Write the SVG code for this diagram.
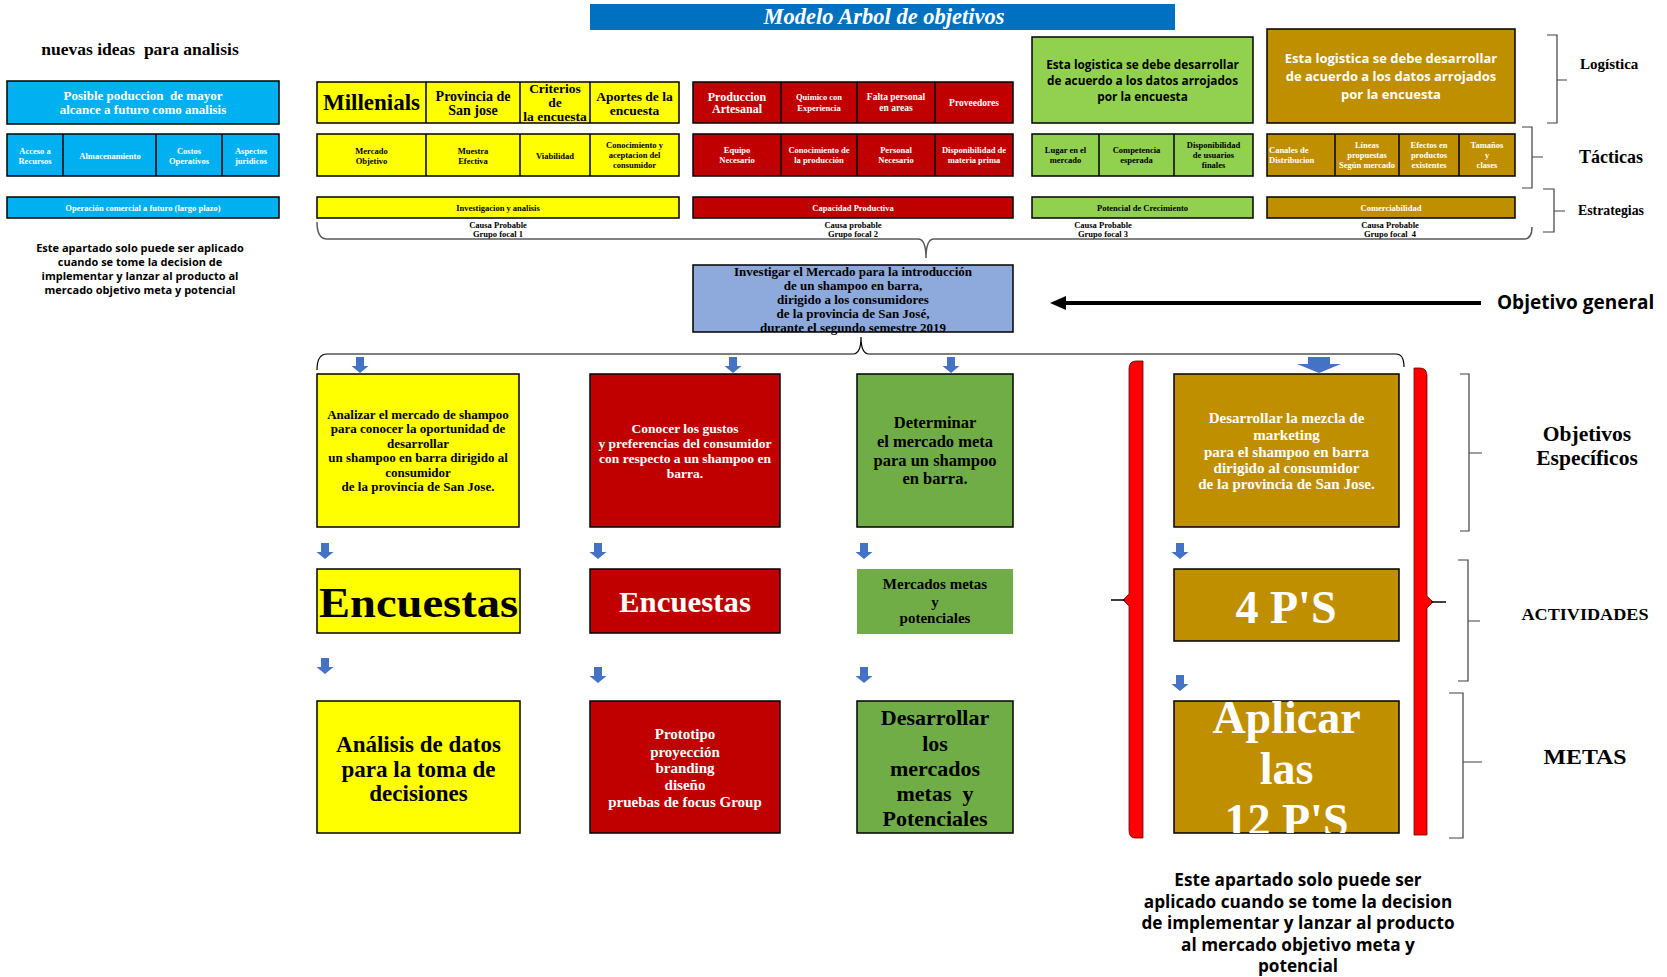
<svg xmlns="http://www.w3.org/2000/svg" xmlns:xlink="http://www.w3.org/1999/xlink" width="1667" height="977" viewBox="0 0 1667 977">
  <style>
    .s{font-family:"Liberation Serif","Times New Roman",serif;font-weight:bold}
    .ss{font-family:"Open Sans","Liberation Sans",Arial,sans-serif;font-weight:bold}
    .m{text-anchor:middle}
    .w{fill:#ffffff}
    .k{fill:#000000}
    .bx{stroke:#000;stroke-width:1.5}
    .dv{stroke:#000;stroke-width:1.5}
    .cy{fill:#00B0F0}
    .ye{fill:#FFFF00}
    .rd{fill:#C00000}
    .gl{fill:#92D050}
    .gd{fill:#BF8F00}
    .gg{fill:#70AD47}
    .br{fill:none;stroke:#404040;stroke-width:1.2}
    .arr{fill:#4472C4}
    .t85{font-size:8.5px}
  </style>
  <defs>
    <path id="ar" d="M-4,0 H4 V9 H8.5 L0,16 L-8.5,9 H-4 Z"/>
    <path id="arBig" d="M-11,0 H11 V7 H22 L0,16 L-22,7 H-11 Z"/>
    <clipPath id="clipAplicar"><rect x="1174" y="701" width="225" height="132"/></clipPath>
  </defs>
  <rect width="1667" height="977" fill="#ffffff"/>

  <!-- title -->
  <g id="title">
    <rect x="590" y="4" width="585" height="26" fill="#0070C0"/>
    <text x="884" y="24" class="s m w" font-size="22.5" font-style="italic">Modelo Arbol de objetivos</text>
  </g>

  <!-- left column: future ideas -->
  <g id="ideas">
    <text x="140" y="55" class="s m k" font-size="17.5">nuevas ideas&#160; para analisis</text>
    <rect x="7" y="81" width="272" height="43" class="cy bx"/>
    <text x="143" y="100" class="s m w" font-size="13">Posible poduccion&#160; de mayor</text>
    <text x="143" y="114" class="s m w" font-size="13">alcance a futuro como analisis</text>
    <rect x="7" y="134" width="272" height="42" class="cy bx"/>
    <path d="M63,134 V176 M156,134 V176 M222,134 V176" class="dv"/>
    <g class="s m w t85">
      <text x="35" y="154">Acceso a</text><text x="35" y="164">Recursos</text>
      <text x="110" y="159">Almacenamiento</text>
      <text x="189" y="154">Costos</text><text x="189" y="164">Operativos</text>
      <text x="251" y="154">Aspectos</text><text x="251" y="164">juridicos</text>
    </g>
    <rect x="7" y="197" width="272" height="21" class="cy bx"/>
    <text x="143" y="211" class="s m w t85">Operación comercial a futuro (largo plazo)</text>
    <g class="ss m k" font-size="11">
      <text x="140" y="252">Este apartado solo puede ser aplicado</text>
      <text x="140" y="266">cuando se tome la decision de</text>
      <text x="140" y="280">implementar y lanzar al producto al</text>
      <text x="140" y="294">mercado objetivo meta y potencial</text>
    </g>
  </g>

  <!-- focal group 1 -->
  <g id="grupo1">
    <rect x="317" y="82" width="362" height="41" class="ye bx"/>
    <path d="M426,82 V123 M520,82 V123 M590,82 V123" class="dv"/>
    <text x="371.5" y="110" class="s m k" font-size="23">Millenials</text>
    <text x="473" y="101" class="s m k" font-size="14">Provincia de</text>
    <text x="473" y="115" class="s m k" font-size="14">San jose</text>
    <text x="555" y="93" class="s m k" font-size="13.5">Criterios</text>
    <text x="555" y="107" class="s m k" font-size="13.5">de</text>
    <text x="555" y="121" class="s m k" font-size="13.5">la encuesta</text>
    <text x="634.5" y="101" class="s m k" font-size="13.5">Aportes de la</text>
    <text x="634.5" y="115" class="s m k" font-size="13.5">encuesta</text>
    <rect x="317" y="134" width="362" height="42" class="ye bx"/>
    <path d="M426,134 V176 M520,134 V176 M590,134 V176" class="dv"/>
    <g class="s m k t85">
      <text x="371.5" y="154">Mercado</text><text x="371.5" y="164">Objetivo</text>
      <text x="473" y="154">Muestra</text><text x="473" y="164">Efectiva</text>
      <text x="555" y="159">Viabilidad</text>
      <text x="634.5" y="148">Conocimiento y</text><text x="634.5" y="158">aceptacion del</text><text x="634.5" y="168">consumidor</text>
    </g>
    <rect x="317" y="197" width="362" height="21" class="ye bx"/>
    <text x="498" y="211" class="s m k t85">Investigacion y analisis</text>
    <text x="498" y="228" class="s m k t85">Causa Probable</text>
    <text x="498" y="237" class="s m k t85">Grupo focal 1</text>
  </g>

  <!-- focal group 2 -->
  <g id="grupo2">
    <rect x="693" y="82" width="320" height="41" class="rd bx"/>
    <path d="M781,82 V123 M857,82 V123 M935,82 V123" class="dv"/>
    <text x="737" y="101" class="s m w" font-size="12">Produccion</text>
    <text x="737" y="113" class="s m w" font-size="12">Artesanal</text>
    <text x="819" y="100" class="s m w t85">Quimico con</text>
    <text x="819" y="111" class="s m w t85">Experiencia</text>
    <text x="896" y="100" class="s m w" font-size="9.5">Falta personal</text>
    <text x="896" y="111" class="s m w" font-size="9.5">en areas</text>
    <text x="974" y="106" class="s m w" font-size="9.5">Proveedores</text>
    <rect x="693" y="134" width="320" height="42" class="rd bx"/>
    <path d="M781,134 V176 M857,134 V176 M935,134 V176" class="dv"/>
    <g class="s m w t85">
      <text x="737" y="153">Equipo</text><text x="737" y="163">Necesario</text>
      <text x="819" y="153">Conocimiento de</text><text x="819" y="163">la producción</text>
      <text x="896" y="153">Personal</text><text x="896" y="163">Necesario</text>
      <text x="974" y="153">Disponibilidad de</text><text x="974" y="163">materia prima</text>
    </g>
    <rect x="693" y="197" width="320" height="21" class="rd bx"/>
    <text x="853" y="211" class="s m w t85">Capacidad Productiva</text>
    <text x="853" y="228" class="s m k t85">Causa probable</text>
    <text x="853" y="237" class="s m k t85">Grupo focal 2</text>
  </g>

  <!-- focal group 3 -->
  <g id="grupo3">
    <rect x="1032" y="37" width="221" height="86" class="gl bx"/>
    <g class="ss m k" font-size="11.8">
      <text x="1142.5" y="69">Esta logistica se debe desarrollar</text>
      <text x="1142.5" y="85">de acuerdo a los datos arrojados</text>
      <text x="1142.5" y="101">por la encuesta</text>
    </g>
    <rect x="1032" y="134" width="221" height="42" class="gl bx"/>
    <path d="M1099,134 V176 M1174,134 V176" class="dv"/>
    <g class="s m k t85">
      <text x="1065.5" y="153">Lugar en el</text><text x="1065.5" y="163">mercado</text>
      <text x="1136.5" y="153">Competencia</text><text x="1136.5" y="163">esperada</text>
      <text x="1213.5" y="148">Disponibilidad</text><text x="1213.5" y="158">de usuarios</text><text x="1213.5" y="168">finales</text>
    </g>
    <rect x="1032" y="197" width="221" height="21" class="gl bx"/>
    <text x="1142.5" y="211" class="s m k t85">Potencial de Crecimiento</text>
    <text x="1103" y="228" class="s m k t85">Causa Probable</text>
    <text x="1103" y="237" class="s m k t85">Grupo focal 3</text>
  </g>

  <!-- focal group 4 -->
  <g id="grupo4">
    <rect x="1267" y="29" width="248" height="94" class="gd bx"/>
    <g class="ss m w" font-size="13">
      <text x="1391" y="63">Esta logistica se debe desarrollar</text>
      <text x="1391" y="81">de acuerdo a los datos arrojados</text>
      <text x="1391" y="99">por la encuesta</text>
    </g>
    <rect x="1267" y="134" width="248" height="42" class="gd bx"/>
    <path d="M1335,134 V176 M1399,134 V176 M1459,134 V176" class="dv"/>
    <g class="s w t85">
      <text x="1269" y="153">Canales de</text><text x="1269" y="163">Distribucion</text>
    </g>
    <g class="s m w t85">
      <text x="1367" y="148">Líneas</text><text x="1367" y="158">propuestas</text><text x="1367" y="168">Según mercado</text>
      <text x="1429" y="148">Efectos en</text><text x="1429" y="158">productos</text><text x="1429" y="168">existentes</text>
      <text x="1487" y="148">Tamaños</text><text x="1487" y="158">y</text><text x="1487" y="168">clases</text>
    </g>
    <rect x="1267" y="197" width="248" height="21" class="gd bx"/>
    <text x="1391" y="211" class="s m w t85">Comerciabilidad</text>
    <text x="1390" y="228" class="s m k t85">Causa Probable</text>
    <text x="1390" y="237" class="s m k t85">Grupo focal&#160; 4</text>
  </g>

  <!-- level labels, top -->
  <g id="niveles-superiores">
    <path d="M1547,35 H1557 V123 H1547 M1557,80 H1567" class="br"/>
    <text x="1580" y="69" class="s k" font-size="15">Logística</text>
    <path d="M1522,127 H1532 V188 H1522 M1532,157 H1543" class="br"/>
    <text x="1579" y="163" class="s k" font-size="18">Tácticas</text>
    <path d="M1543,189 H1554 V232 H1543 M1554,211 H1565" class="br"/>
    <text x="1578" y="215" class="s k" font-size="13.8">Estrategias</text>
  </g>

  <!-- general objective -->
  <g id="objetivo-general">
    <rect x="693" y="265" width="320" height="67" fill="#8EA9DB" class="bx"/>
    <g class="s m k" font-size="13">
      <text x="853" y="276">Investigar el Mercado para la introducción</text>
      <text x="853" y="290">de un shampoo en barra,</text>
      <text x="853" y="304">dirigido a los consumidores</text>
      <text x="853" y="318">de la provincia de San José,</text>
      <text x="853" y="332">durante el segundo semestre 2019</text>
    </g>
    <text x="1497" y="309" class="ss k" font-size="19">Objetivo general</text>
  </g>

  <!-- specific objectives -->
  <g id="obj1">
    <rect x="317" y="374" width="202" height="153" class="ye bx"/>
    <g class="s m k" font-size="13">
      <text x="418" y="419">Analizar el mercado de shampoo</text>
      <text x="418" y="433">para conocer la oportunidad de</text>
      <text x="418" y="448">desarrollar</text>
      <text x="418" y="462">un shampoo en barra dirigido al</text>
      <text x="418" y="477">consumidor</text>
      <text x="418" y="491">de la provincia de San Jose.</text>
    </g>
  </g>
  <g id="obj2">
    <rect x="590" y="374" width="190" height="153" class="rd bx"/>
    <g class="s m w" font-size="13.5">
      <text x="685" y="433">Conocer los gustos</text>
      <text x="685" y="448">y preferencias del consumidor</text>
      <text x="685" y="463">con respecto a un shampoo en</text>
      <text x="685" y="478">barra.</text>
    </g>
  </g>
  <g id="obj3">
    <rect x="857" y="374" width="156" height="153" class="gg bx"/>
    <g class="s m k" font-size="16.5">
      <text x="935" y="428">Determinar</text>
      <text x="935" y="447">el mercado meta</text>
      <text x="935" y="466">para un shampoo</text>
      <text x="935" y="484">en barra.</text>
    </g>
  </g>
  <g id="obj4">
    <rect x="1174" y="374" width="225" height="153" class="gd bx"/>
    <g class="s m w" font-size="15">
      <text x="1286.5" y="423">Desarrollar la mezcla de</text>
      <text x="1286.5" y="440">marketing</text>
      <text x="1286.5" y="457">para el shampoo en barra</text>
      <text x="1286.5" y="473">dirigido al consumidor</text>
      <text x="1286.5" y="489">de la provincia de San Jose.</text>
    </g>
  </g>

  <!-- activities -->
  <g id="act1">
    <rect x="317" y="569" width="203" height="64" class="ye bx"/>
    <text x="418.5" y="617" class="s m k" font-size="42" textLength="199" lengthAdjust="spacingAndGlyphs">Encuestas</text>
  </g>
  <g id="act2">
    <rect x="590" y="569" width="190" height="64" class="rd bx"/>
    <text x="685" y="612" class="s m w" font-size="29" textLength="132" lengthAdjust="spacingAndGlyphs">Encuestas</text>
  </g>
  <g id="act3">
    <rect x="857" y="569" width="156" height="65" class="gg"/>
    <g class="s m k" font-size="15">
      <text x="935" y="589">Mercados metas</text>
      <text x="935" y="607">y</text>
      <text x="935" y="623">potenciales</text>
    </g>
  </g>
  <g id="act4">
    <rect x="1174" y="569" width="225" height="72" class="gd bx"/>
    <text x="1286" y="623" class="s m w" font-size="46">4 P'S</text>
  </g>

  <!-- goals -->
  <g id="meta1">
    <rect x="317" y="701" width="203" height="132" class="ye bx"/>
    <g class="s m k" font-size="23">
      <text x="418.5" y="752">Análisis de datos</text>
      <text x="418.5" y="777">para la toma de</text>
      <text x="418.5" y="801">decisiones</text>
    </g>
  </g>
  <g id="meta2">
    <rect x="590" y="701" width="190" height="132" class="rd bx"/>
    <g class="s m w" font-size="15">
      <text x="685" y="739">Prototipo</text>
      <text x="685" y="757">proyección</text>
      <text x="685" y="773">branding</text>
      <text x="685" y="790">diseño</text>
      <text x="685" y="807">pruebas de focus Group</text>
    </g>
  </g>
  <g id="meta3">
    <rect x="857" y="701" width="156" height="132" class="gg bx"/>
    <g class="s m k" font-size="22">
      <text x="935" y="725">Desarrollar</text>
      <text x="935" y="751">los</text>
      <text x="935" y="776">mercados</text>
      <text x="935" y="801">metas&#160; y</text>
      <text x="935" y="826">Potenciales</text>
    </g>
  </g>
  <g id="meta4">
    <rect x="1174" y="701" width="225" height="132" class="gd bx"/>
    <g class="s m w" font-size="46" clip-path="url(#clipAplicar)">
      <text x="1286.5" y="733">Aplicar</text>
      <text x="1286.5" y="784">las</text>
      <text x="1286.5" y="836">12 P'S</text>
    </g>
  </g>

  <!-- note under the marketing mix column -->
  <g id="nota">
    <g class="ss m k" font-size="17.2">
      <text x="1298" y="886">Este apartado solo puede ser</text>
      <text x="1298" y="908">aplicado cuando se tome la decision</text>
      <text x="1298" y="929">de implementar y lanzar al producto</text>
      <text x="1298" y="951">al mercado objetivo meta y</text>
      <text x="1298" y="972">potencial</text>
    </g>
  </g>

  <!-- level labels, lower -->
  <g id="niveles-inferiores">
    <path d="M1460,374 H1469 V531 H1460 M1469,453 H1482" class="br"/>
    <text x="1587" y="441" class="s m k" font-size="21.5">Objetivos</text>
    <text x="1587" y="465" class="s m k" font-size="21.5">Específicos</text>
    <path d="M1458,560 H1468 V681 H1458 M1468,621 H1480" class="br"/>
    <text x="1585" y="620" class="s m k" font-size="16" textLength="127" lengthAdjust="spacingAndGlyphs">ACTIVIDADES</text>
    <path d="M1449,693 H1463 V838 H1449 M1463,762 H1482" class="br"/>
    <text x="1585" y="764" class="s m k" font-size="20" textLength="83" lengthAdjust="spacingAndGlyphs">METAS</text>
  </g>

  <!-- connectors -->
  <g id="conectores">
    <!-- brace gathering the four causes -->
    <path d="M317,222 Q317,239 327,239 L918,239 Q926,239 926,258 Q926,239 934,239 L1524,239 Q1532,239 1532,227" fill="none" stroke="#595959" stroke-width="1.5"/>
    <!-- brace spreading to the specific objectives -->
    <path d="M317,370 Q317,354 327,354 L853,354 Q861,354 861,337 Q861,354 869,354 L1396,354 Q1404,354 1404,367" fill="none" stroke="#000" stroke-width="1.2"/>
    <!-- pointer to the general objective -->
    <line x1="1481" y1="303" x2="1062" y2="303" stroke="#000" stroke-width="4"/>
    <polygon points="1050,303 1066,296 1066,310" fill="#000"/>
    <!-- red braces framing the marketing mix column -->
    <path d="M1143,361 V838 H1135 Q1129,838 1129,830 V606 L1123,600 L1129,594 V369 Q1129,361 1136,361 Z" fill="#FF0000" stroke="#600" stroke-width="0.8"/>
    <line x1="1111" y1="600" x2="1125" y2="600" stroke="#000" stroke-width="1.5"/>
    <path d="M1414,368 H1420 Q1427,368 1427,376 V596 L1433,602 L1427,608 V835 H1414 Z" fill="#FF0000" stroke="#600" stroke-width="0.8"/>
    <line x1="1431" y1="602" x2="1446" y2="602" stroke="#000" stroke-width="1.5"/>
    <!-- block arrows -->
    <g class="arr">
      <use xlink:href="#ar" x="360" y="357"/>
      <use xlink:href="#ar" x="733" y="357"/>
      <use xlink:href="#ar" x="951" y="357"/>
      <use xlink:href="#arBig" x="1319" y="357"/>
      <use xlink:href="#ar" x="325" y="543"/>
      <use xlink:href="#ar" x="598" y="543"/>
      <use xlink:href="#ar" x="864" y="543"/>
      <use xlink:href="#ar" x="1180" y="543"/>
      <use xlink:href="#ar" x="325" y="658"/>
      <use xlink:href="#ar" x="598" y="667"/>
      <use xlink:href="#ar" x="864" y="667"/>
      <use xlink:href="#ar" x="1180" y="675"/>
    </g>
  </g>
</svg>
